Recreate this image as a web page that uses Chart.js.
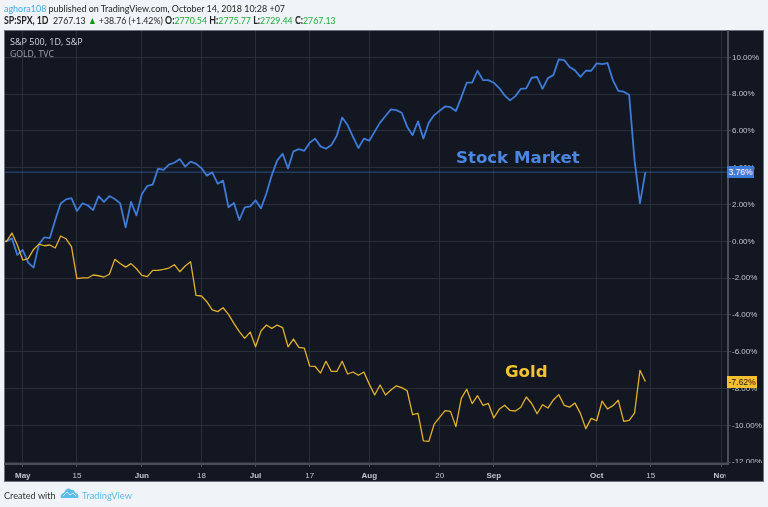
<!DOCTYPE html>
<html>
<head>
<meta charset="utf-8">
<script src="https://cdn.jsdelivr.net/npm/chart.js@4"></script>
<style>
html,body{margin:0;padding:0;background:#f0f3f7;width:768px;height:507px;overflow:hidden}
#panel{position:absolute;left:4px;top:30px;width:758px;height:450px;background:#131722;border:1px solid #70737c}
canvas{position:absolute;left:0;top:0}
.t{position:absolute;white-space:nowrap;font-family:Lato,sans-serif;transform-origin:0 50%}
.g{color:#22ab3a}
.tag{position:absolute;font:8.5px "Liberation Sans",sans-serif;text-align:center}
</style>
</head>
<body>
<div id="panel"></div>
<canvas id="chartdiv" width="768" height="507"></canvas>

<div class="t" style="left:4px;top:0px;font-size:10.4px;line-height:16px;color:#222;transform:scaleX(.86)"><span style="color:#3bb0e6">aghora108</span> published on TradingView.com, October 14, 2018 10:28 +07</div>
<div class="t" style="left:4px;top:13px;font-size:10.4px;line-height:15px;color:#222;transform:scaleX(.845)"><b>SP:SPX, 1D</b>&nbsp; 2767.13 <span style="color:#0a9a0a">▲</span> +38.76 (+1.42%) <b>O:</b><span class="g">2770.54</span> <b>H:</b><span class="g">2775.77</span> <b>L:</b><span class="g">2729.44</span> <b>C:</b><span class="g">2767.13</span></div>

<div class="t" style="left:10px;top:36px;font-family:'Open Sans',sans-serif;font-size:9px;line-height:12px;color:#d1d4dc">S&amp;P 500, 1D, S&amp;P</div>
<div class="t" style="left:10px;top:48px;font-family:'Open Sans',sans-serif;font-size:8.7px;line-height:12px;color:#a0a3ac">GOLD, TVC</div>

<div class="t" style="left:456px;top:147px;font:bold 16.6px 'DejaVu Sans',sans-serif;line-height:22px;color:#4a86e2">Stock Market</div>
<div class="t" style="left:505px;top:361px;font:bold 16.6px 'DejaVu Sans',sans-serif;line-height:22px;color:#f2c230">Gold</div>

<div class="tag" style="left:727px;top:166px;width:27px;height:12px;line-height:12px;background:#3d7bd6;color:#fff">3.76%</div>
<div class="tag" style="left:727px;top:376px;width:30px;height:12px;line-height:12px;background:#f5c02e;color:#222">-7.62%</div>

<svg style="position:absolute;left:60px;top:486px" width="20" height="14" viewBox="0 0 20 14">
<path d="M1 12 C0 9 2 7 4 7 C5 3 9 1 11 4 C13 3 15 5 15 7 C18 7 19 10 18 12 Z" fill="#5bbde8"/>
<path d="M3 10 L7 6 L10 9 L13 7 L16 10" fill="none" stroke="#cfeaf7" stroke-width="1"/>
</svg>
<div class="t" style="left:4px;top:487px;font-size:10.4px;line-height:16px;color:#333;transform:scaleX(.88)">Created with</div>
<div class="t" style="left:82px;top:487px;font-size:10.4px;line-height:16px;color:#5bbde8;transform:scaleX(.89)">TradingView</div>

<script>
// percent change, one value per trading day
const stockValues = [0,0,0.16,-0.74,-0.47,-1.16,-1.43,-0.15,0.22,0.18,
    1.16,2.06,2.28,2.35,1.65,2.06,1.96,1.70,2.46,2.14,
    2.46,2.30,2.06,0.76,2.14,1.41,2.57,3.01,3.08,3.95,
    3.88,4.17,4.27,4.47,4.06,4.33,4.22,3.98,3.57,3.75,
    3.13,3.30,1.85,2.08,1.16,1.85,1.90,2.23,1.79,2.60,
    3.60,4.40,4.76,3.96,4.89,5.01,4.92,5.36,5.58,5.16,
    5.03,5.23,5.74,6.73,6.32,5.68,5.07,5.58,5.47,5.96,
    6.45,6.81,7.17,7.13,6.99,6.23,5.77,6.52,5.59,6.45,
    6.86,7.10,7.33,7.29,7.08,7.82,8.62,8.62,9.27,8.76,
    8.76,8.62,8.33,7.93,7.66,7.89,8.29,8.31,8.89,8.93,
    8.29,8.87,9.03,9.89,9.85,9.47,9.29,8.94,9.27,9.27,
    9.67,9.63,9.69,8.76,8.18,8.13,7.96,4.41,2.06,3.76];
const goldValues = [0,0,0.45,-0.20,-1.02,-0.94,-0.44,-0.15,-0.24,-0.20,
    -0.36,0.29,0.14,-0.29,-2.03,-1.99,-1.99,-1.83,-1.87,-1.94,
    -1.79,-0.98,-1.20,-1.40,-1.21,-1.49,-1.85,-1.92,-1.58,-1.58,
    -1.52,-1.45,-1.27,-1.65,-1.34,-1.11,-2.94,-2.97,-3.28,-3.73,
    -3.82,-3.61,-3.97,-4.46,-4.91,-5.27,-4.93,-5.73,-4.87,-4.55,
    -4.73,-4.55,-4.69,-5.73,-5.31,-5.76,-5.80,-6.78,-6.80,-7.16,
    -6.52,-7.07,-7.07,-6.52,-7.21,-7.10,-7.28,-7.10,-7.76,-8.35,
    -7.81,-8.35,-8.08,-7.85,-7.95,-8.12,-9.42,-9.35,-10.84,-10.87,
    -9.93,-9.57,-9.20,-9.24,-10.07,-8.53,-8.04,-8.82,-8.39,-8.91,
    -8.81,-9.60,-9.13,-8.91,-9.19,-9.22,-9.02,-8.46,-8.81,-9.37,
    -8.88,-9.06,-8.62,-8.33,-8.91,-9.01,-8.79,-9.35,-10.18,-9.62,
    -9.75,-8.68,-9.11,-8.93,-8.64,-9.78,-9.73,-9.33,-7.01,-7.62];
const lastPrice = 3.76;

const tickBars = [4,14,26,37,47,57,68,81,91,110,120,133];
const tickLabels = ["May","15","Jun","18","Jul","17","Aug","20","Sep","Oct","15","Nov"];
const monthLabels = ["May","Jun","Jul","Aug","Sep","Oct","Nov"];
const yTicks = [-12,-10,-8,-6,-4,-2,0,2,4,6,8,10];

const xMin = 0.72, xMax = 134.26;
const yMin = -12.10, yMax = 11.43;

const gridColor = "#2a2e39";
const axisColor = "#4b4e58";
const labelColor = "#c2c5cd";

// the labels run under the axis strip, cut them off like the original
const cutLabels = {
    id: "cutLabels",
    afterDraw(chart) {
        const c = chart.ctx;
        c.save();
        c.fillStyle = "#131722";
        c.fillRect(725.5, 465, 37, 15);
        c.fillRect(729, 463, 33, 3);
        c.restore();
    }
};

let lineChart = new Chart(document.getElementById("chartdiv"), {
    type: "line",
    plugins: [cutLabels],
    data: {
        datasets: [
            {
                data: [{x: xMin, y: lastPrice}, {x: xMax, y: lastPrice}],
                borderColor: "rgba(61,123,214,0.55)",
                borderWidth: 1,
                pointRadius: 0
            },
            {
                data: goldValues.map((v, i) => ({x: i, y: v})),
                borderColor: "#e4b12a",
                borderWidth: 1.3,
                borderJoinStyle: "round",
                pointRadius: 0,
                tension: 0
            },
            {
                data: stockValues.map((v, i) => ({x: i, y: v})),
                borderColor: "#3d7bd6",
                borderWidth: 1.8,
                borderJoinStyle: "round",
                pointRadius: 0,
                tension: 0
            }
        ]
    },
    options: {
        responsive: false,
        animation: false,
        layout: {padding: {left: 5, top: 31, right: 5, bottom: 26}},
        plugins: {legend: {display: false}, tooltip: {enabled: false}},
        scales: {
            x: {
                type: "linear",
                min: xMin,
                max: xMax,
                afterBuildTicks: axis => { axis.ticks = tickBars.map(v => ({value: v})); },
                afterFit: axis => { axis.height = 17; },
                grid: {color: gridColor, tickColor: axisColor, tickLength: 3},
                border: {color: axisColor, width: 2},
                ticks: {
                    autoSkip: false,
                    maxRotation: 0,
                    padding: 4,
                    color: labelColor,
                    font: ctx => ({
                        family: "Liberation Sans",
                        size: 8,
                        weight: monthLabels.includes(tickLabels[ctx.index]) ? "bold" : "normal"
                    }),
                    callback: (v, i) => tickLabels[i]
                }
            },
            y: {
                position: "right",
                min: yMin,
                max: yMax,
                afterBuildTicks: axis => { axis.ticks = yTicks.map(v => ({value: v})); },
                afterFit: axis => { axis.width = 35; },
                grid: {color: gridColor, tickColor: axisColor, tickLength: 3},
                border: {color: axisColor, width: 2},
                ticks: {
                    autoSkip: false,
                    padding: 1,
                    color: labelColor,
                    font: {family: "Liberation Sans", size: 8},
                    callback: v => v.toFixed(2) + "%"
                }
            }
        }
    }
});
</script>
</body>
</html>
